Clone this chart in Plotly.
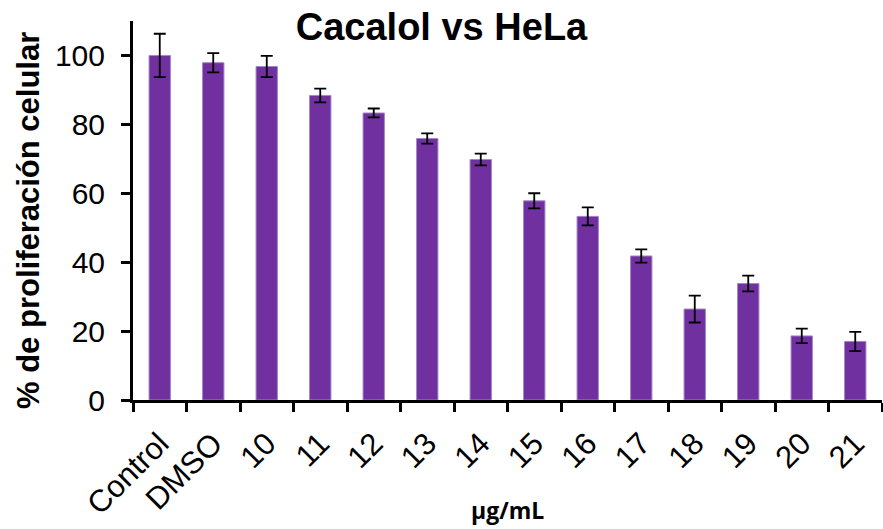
import plotly.graph_objects as go

# Concentrations tested (µg/mL) plus the two controls
categories = ["Control", "DMSO", "10", "11", "12", "13", "14",
              "15", "16", "17", "18", "19", "20", "21"]

# Mean cell proliferation (%) and standard deviation per condition
proliferation = [100.0, 97.9, 96.8, 88.4, 83.3, 75.9, 69.8,
                 57.8, 53.3, 41.8, 26.4, 33.8, 18.6, 17.0]
std_dev = [6.3, 2.8, 3.1, 2.0, 1.3, 1.5, 1.7,
           2.2, 2.6, 1.9, 3.9, 2.3, 2.1, 2.8]

y_ticks = [0, 20, 40, 60, 80, 100]

fig = go.Figure(
    go.Bar(
        x=categories,
        y=proliferation,
        width=0.4,
        marker=dict(color="#7030A0", line=dict(color="#A487C6", width=1)),
        error_y=dict(type="data", array=std_dev, visible=True,
                     color="black", thickness=1.8, width=6),
    )
)

fig.update_layout(
    width=883,
    height=529,
    margin=dict(l=133, r=1, t=21, b=129),
    paper_bgcolor="white",
    plot_bgcolor="white",
    showlegend=False,
    title=dict(
        text="<b>Cacalol vs HeLa</b>",
        font=dict(family="Liberation Sans, Arial", size=38, color="black"),
        x=0.5, xref="container", xanchor="center",
        y=1 - 27 / 529, yref="container", yanchor="middle",
    ),
    font=dict(family="Liberation Sans, Arial", color="black"),
)

# Vertical axis title, placed a little below the plot centre
fig.add_annotation(
    text="<b>% de proliferación celular</b>",
    xref="paper", yref="paper",
    x=(28 - 133) / 749, y=(400 - 221) / 379,
    xanchor="center", yanchor="middle",
    textangle=-90, showarrow=False,
    font=dict(family="Liberation Sans, Arial", size=31, color="black"),
)

# Horizontal axis title under the rotated category labels
fig.add_annotation(
    text="<b>µg/mL</b>",
    xref="paper", yref="paper",
    x=0.5, y=-(527 - 400) / 379,
    xanchor="center", yanchor="bottom",
    borderpad=0,
    showarrow=False,
    font=dict(family="Open Sans", size=23, color="black"),
)

fig.update_xaxes(
    type="category",
    range=[-0.5, 13.5],
    automargin=False,
    showline=True, linecolor="black", linewidth=3,
    ticks="outside", tickson="boundaries", ticklen=9, tickwidth=3,
    tickcolor="black",
    tickangle=-45,
    ticklabelstandoff=10,
    tickfont=dict(family="Liberation Sans, Arial", size=31, color="black"),
    showgrid=False,
)

fig.update_yaxes(
    range=[0, 110],
    automargin=False,
    tickvals=y_ticks,
    ticktext=[str(v) for v in y_ticks],
    showline=True, linecolor="black", linewidth=3,
    ticks="outside", ticklen=9, tickwidth=3, tickcolor="black",
    ticklabelstandoff=10,
    tickfont=dict(family="Liberation Sans, Arial", size=30, color="black"),
    showgrid=False, zeroline=False,
)

fig.write_html("out.html")
